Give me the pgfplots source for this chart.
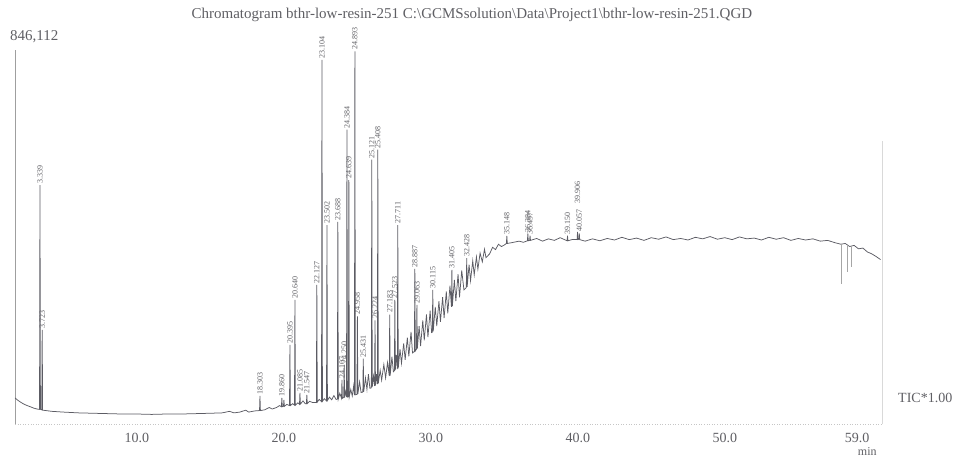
\documentclass[border=0pt]{standalone}
\usepackage{fontspec}
\setmainfont{Liberation Serif}
\usepackage{pgfplots}
\pgfplotsset{compat=1.18}
\usepackage{pgfplotstable}
\definecolor{trace}{RGB}{92,92,100}
\definecolor{txt}{RGB}{95,95,100}
\pgfplotstableread{
t y
1.70 6.8
1.85 6.3
2.00 5.9
2.20 5.4
2.40 5.0
2.60 4.7
2.80 4.4
3.00 4.1
3.20 3.9
3.37 3.8
3.40 62.2
3.43 3.8
3.52 3.7
3.55 24.5
3.58 3.6
3.80 3.5
4.20 3.3
5.00 3.1
6.00 2.9
7.00 2.8
8.00 2.7
9.00 2.6
10.00 2.6
11.00 2.5
12.00 2.6
13.00 2.6
14.00 2.7
15.00 2.8
15.80 2.9
16.30 3.3
16.60 2.9
17.00 3.1
17.40 3.6
17.60 3.1
18.00 3.4
18.34 3.5
18.37 7.3
18.40 3.5
18.70 3.7
19.00 4.3
19.20 3.9
19.50 4.3
19.70 4.8
19.83 4.5
19.86 6.8
19.89 4.5
19.97 4.6
20.00 6.3
20.03 4.6
20.20 5.1
20.38 4.8
20.41 20.6
20.44 4.8
20.60 5.3
20.72 4.9
20.75 32.3
20.78 4.9
20.95 5.5
21.06 5.1
21.09 8.1
21.12 5.2
21.30 6.0
21.45 5.3
21.53 5.3
21.56 7.6
21.59 5.3
21.75 5.9
21.95 5.6
22.21 5.6
22.24 36.2
22.27 5.7
22.40 6.4
22.56 5.8
22.59 94.8
22.62 5.9
22.75 6.6
22.90 6.0
22.93 51.8
22.96 6.1
23.10 7.0
23.25 6.3
23.40 7.4
23.55 6.4
23.64 6.5
23.67 52.6
23.70 6.5
23.80 8.0
23.92 6.7
23.95 11.5
23.98 6.7
24.07 6.9
24.10 15.4
24.13 6.9
24.20 8.5
24.26 7.0
24.29 76.6
24.32 7.0
24.39 7.1
24.42 63.5
24.45 7.1
24.55 9.0
24.65 7.3
24.75 10.0
24.80 7.5
24.83 97.0
24.86 7.6
24.97 7.7
25.00 28.0
25.03 7.8
25.15 11.0
25.25 8.2
25.37 8.3
25.40 17.0
25.43 8.4
25.55 12.0
25.65 9.0
25.75 13.0
25.85 9.3
25.95 9.4
25.98 68.8
26.01 9.6
26.10 12.5
26.17 9.9
26.20 27.0
26.23 10.0
26.30 13.0
26.36 10.4
26.39 71.4
26.42 10.5
26.55 14.0
26.65 11.4
26.80 15.5
26.92 12.0
27.05 16.0
27.17 12.5
27.20 28.5
27.23 12.6
27.35 17.5
27.45 13.6
27.52 13.9
27.55 32.3
27.58 14.0
27.65 18.0
27.72 14.3
27.75 51.8
27.78 14.5
27.90 19.5
28.00 15.8
28.15 21.0
28.25 16.7
28.40 22.5
28.50 17.6
28.65 24.0
28.75 18.5
28.88 18.9
28.91 40.4
28.94 19.0
29.02 19.5
29.05 31.0
29.08 19.6
29.20 25.5
29.30 20.3
29.45 27.0
29.55 21.8
29.70 28.5
29.80 22.6
29.95 29.5
30.05 23.8
30.10 23.9
30.13 34.9
30.16 24.1
30.30 30.5
30.40 25.5
30.55 32.0
30.65 26.6
30.80 33.0
30.90 27.6
31.05 34.5
31.15 28.8
31.30 36.0
31.40 30.5
31.43 40.1
31.46 30.6
31.60 37.5
31.70 32.0
31.85 39.0
31.95 33.0
32.10 40.0
32.25 34.9
32.41 35.5
32.44 43.2
32.47 35.7
32.60 41.5
32.70 37.3
32.85 42.5
32.95 38.8
33.10 43.5
33.20 40.3
33.35 44.5
33.50 42.2
33.65 45.5
33.75 43.3
34.00 44.3
34.20 46.0
34.40 45.4
34.60 46.8
34.80 46.2
35.00 46.6
35.14 47.0
35.17 49.0
35.20 47.0
35.50 47.2
36.00 47.6
36.30 47.3
36.57 47.7
36.60 49.5
36.63 47.7
36.72 47.8
36.75 49.0
36.78 47.8
37.20 48.3
37.60 47.6
38.00 48.2
38.40 47.8
38.80 48.5
39.27 47.7
39.30 49.0
39.33 47.7
39.60 48.0
39.95 48.0
39.98 50.0
40.01 48.0
40.07 48.1
40.10 49.6
40.13 48.0
40.50 47.6
41.00 48.2
41.50 47.7
42.00 48.3
42.50 47.9
43.00 48.6
43.50 48.0
44.00 48.4
44.50 47.8
45.00 48.5
45.50 48.1
46.00 48.7
46.50 48.0
47.00 48.3
47.50 47.9
48.00 48.6
48.50 48.2
49.00 48.8
49.50 48.1
50.00 48.5
50.50 48.0
51.00 48.7
51.50 48.2
52.00 48.4
52.50 47.9
53.00 48.6
53.50 48.1
54.00 48.5
54.50 47.8
55.00 48.3
55.50 47.9
56.00 48.2
56.50 47.6
57.00 47.8
57.50 47.2
57.90 46.8
58.20 47.0
58.50 46.2
58.80 46.5
59.10 45.6
59.40 45.8
59.70 44.8
60.00 44.3
60.30 43.6
60.60 42.8
}\tracedata
\pgfplotstableread{
t y lab
3.40 62.2 3.339
3.55 24.5 3.723
18.37 7.3 18.303
19.86 6.8 19.860
20.41 20.6 20.395
20.75 32.3 20.640
21.09 8.1 21.085
21.56 7.6 21.547
22.24 36.2 22.127
22.59 94.8 23.104
22.93 51.8 23.502
23.67 52.6 23.688
23.95 11.5 24.107
24.10 15.4 24.250
24.29 76.6 24.384
24.42 63.5 24.639
24.83 97.0 24.893
25.00 28.0 24.958
25.40 17.0 25.431
25.98 68.8 25.121
26.20 27.0 26.224
26.39 71.4 25.408
27.20 28.5 27.183
27.55 32.3 27.523
27.75 51.8 27.711
28.91 40.4 28.887
29.05 31.0 29.063
30.13 34.9 30.115
31.43 40.1 31.405
32.44 43.2 32.428
35.17 49.0 35.148
36.60 49.5 36.384
36.75 49.0 36.497
39.30 49.0 39.150
39.98 57.0 39.906
40.10 49.6 40.057
}\labeldata
\pgfplotstableread{
t y
57.95 46.9
57.95 36.5
nan nan
58.35 46.8
58.35 39.5
nan nan
58.62 46.3
58.62 41.0
}\droplines
\begin{document}
\begin{tikzpicture}
\path[use as bounding box] (-15pt,-35pt) rectangle (943pt,424pt);
\begin{axis}[
  at={(0,0)}, anchor=south west,
  scale only axis, width=867pt, height=378pt,
  xmin=1.7, xmax=60.7, ymin=0, ymax=98.4,
  axis line style={draw=none},
  xtick={10,20,30,40,50,59},
  xticklabels={10.0,20.0,30.0,40.0,50.0,59.0},
  ytick=\empty, major tick length=0pt,
  xticklabel style={font=\fontsize{14}{16}\selectfont, text=txt, yshift=-6pt},
  clip=false,
]
\draw[gray!75, line width=0.6pt] (rel axis cs:0,0) -- (rel axis cs:0,0.99);
\draw[gray!45, dotted, line width=0.6pt] (rel axis cs:0,0) -- (rel axis cs:1,0);
\draw[gray!30, line width=0.5pt] (rel axis cs:1,0) -- (rel axis cs:1,0.75);
\addplot[trace, line width=0.75pt] table[x=t,y=y] {\tracedata};
\addplot[gray!70, line width=0.4pt, unbounded coords=jump] table[x=t,y=y] {\droplines};
\addplot[draw=none, mark=none, nodes near coords, point meta=explicit symbolic,
  nodes near coords style={rotate=90, anchor=west, font=\fontsize{8}{8}\selectfont, text=txt, inner sep=1.5pt}]
  table[x=t,y=y,meta=lab] {\labeldata};
\node[text=txt, font=\fontsize{15}{16}\selectfont] at (rel axis cs:0.527,1) [yshift=31pt]
  {Chromatogram bthr-low-resin-251 C:\textbackslash GCMSsolution\textbackslash Data\textbackslash Project1\textbackslash bthr-low-resin-251.QGD};
\node[text=txt, font=\fontsize{15}{16}\selectfont, anchor=west, inner sep=0pt] at (rel axis cs:0,1) [xshift=-5pt, yshift=9pt] {846,112};
\node[text=txt, font=\fontsize{14}{16}\selectfont, anchor=west, inner sep=0pt] at (rel axis cs:1,0.069) [xshift=16pt] {TIC*1.00};
\node[text=txt, font=\fontsize{12}{14}\selectfont] at (axis cs:59.7,0) [yshift=-28pt] {min};
\end{axis}
\end{tikzpicture}
\end{document}
